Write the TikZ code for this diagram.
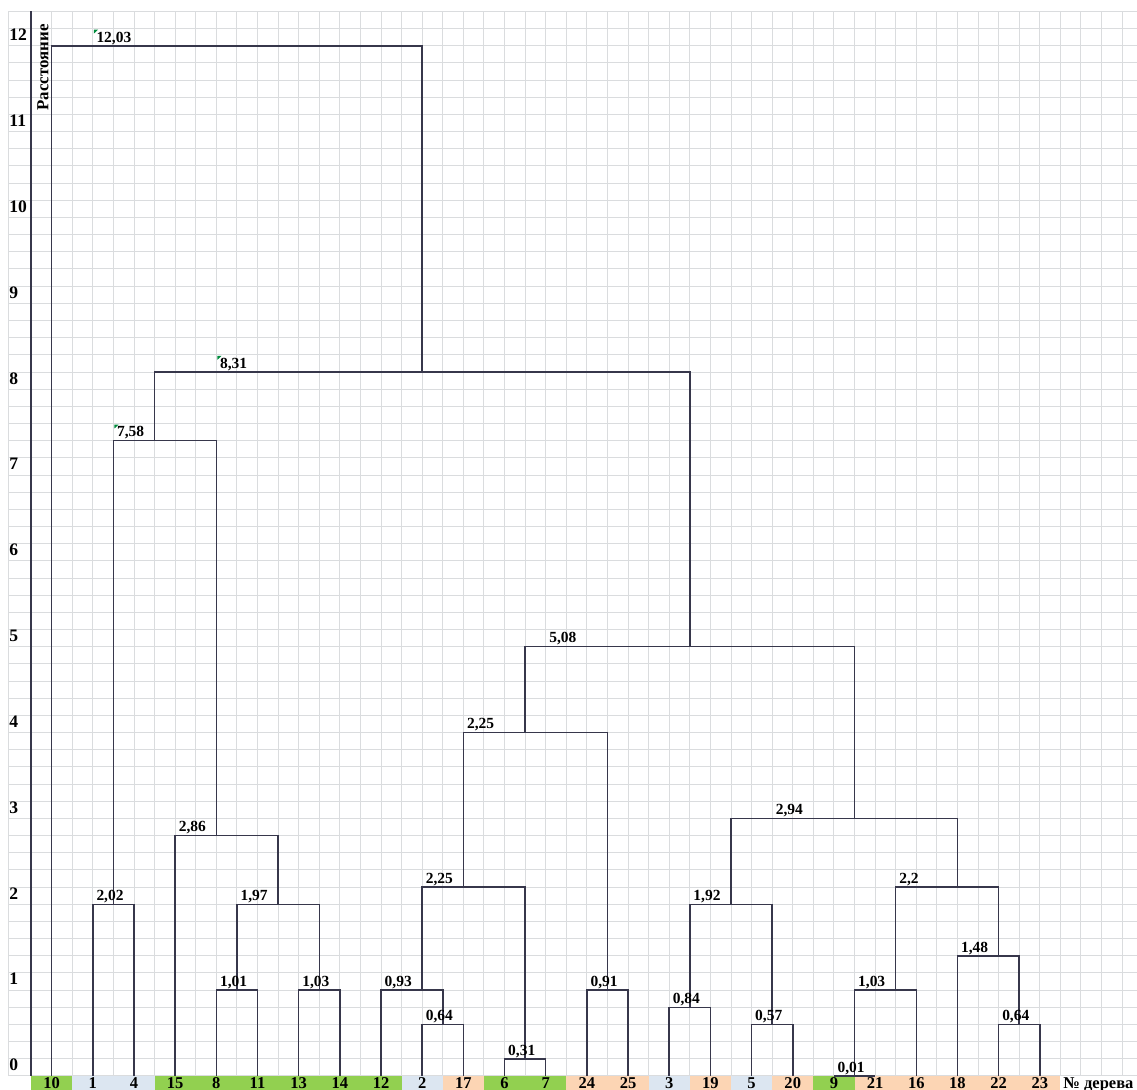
\documentclass[tikz,border=0pt]{standalone}
\usepackage{fontspec}
\setmainfont{Liberation Serif}
\definecolor{cellgreen}{RGB}{146,208,80}
\definecolor{cellblue}{RGB}{220,230,241}
\definecolor{cellorange}{RGB}{252,213,180}
\definecolor{gridgray}{RGB}{218,220,222}
\definecolor{linkgray}{RGB}{55,55,75}
\definecolor{notegreen}{RGB}{0,140,60}

\begin{document}
\begin{tikzpicture}[x=4.117mm,y=3.434mm,
        link/.style={draw=linkgray,line width=0.3mm},
        gridline/.style={draw=gridgray,line width=0.2mm},
        val/.style={anchor=base west,inner sep=0pt,font=\bfseries\fontsize{8.8}{10}\selectfont},
        leafno/.style={anchor=base,inner sep=0pt,font=\bfseries\fontsize{9.4}{10}\selectfont},
        axno/.style={anchor=base west,inner sep=0pt,font=\bfseries\fontsize{10}{11}\selectfont}]
    \useasboundingbox (-2.5115,-0.8154) rectangle (52.724,62.667);

    % Sheet grid
    \foreach \k in {0,...,62}
        \draw[gridline] (-2.108,\k) -- (52.724,\k);
    \foreach \j in {-1,...,52}
        \draw[gridline] (\j,0) -- (\j,62);
    \draw[gridline] (-2.108,0) -- (-2.108,62);

    % Axis
    \draw[linkgray,line width=0.35mm] (-1,0) -- (-1,62);
    \foreach \v in {0,...,12}
        \node[axno] (y\v) at (-2.07,5*\v+0.3) {\v};
    \node[rotate=90,inner sep=0pt,font=\bfseries\fontsize{9.6}{10}\selectfont] (ytitle) at (-0.42,58.74) {Расстояние};

    % Leaves
    \foreach \j/\n/\c in {0/10/cellgreen, 2/1/cellblue, 4/4/cellblue, 6/15/cellgreen,
            8/8/cellgreen, 10/11/cellgreen, 12/13/cellgreen, 14/14/cellgreen,
            16/12/cellgreen, 18/2/cellblue, 20/17/cellorange, 22/6/cellgreen,
            24/7/cellgreen, 26/24/cellorange, 28/25/cellorange, 30/3/cellblue,
            32/19/cellorange, 34/5/cellblue, 36/20/cellorange, 38/9/cellgreen,
            40/21/cellorange, 42/16/cellorange, 44/18/cellorange, 46/22/cellorange,
            48/23/cellorange} {
        \fill[\c] (\j-1,-0.9) rectangle (\j+1,0);
        \node[leafno] (t\n) at (\j,-0.74) {\n};
        \coordinate (l\n) at (\j,0);
    }
    \node[leafno,anchor=base west] (xtitle) at (49.13,-0.74) {№ дерева};

    % Merge points
    \coordinate (mA) at (3,10);
    \coordinate (mB) at (9,5);
    \coordinate (mC) at (13,5);
    \coordinate (mD) at (11,10);
    \coordinate (mE) at (8,14);
    \coordinate (mF) at (5,37);
    \coordinate (mG) at (19,3);
    \coordinate (mH) at (18,5);
    \coordinate (mI) at (23,1);
    \coordinate (mJ) at (20,11);
    \coordinate (mK) at (27,5);
    \coordinate (mL) at (23,20);
    \coordinate (mM) at (31,4);
    \coordinate (mN) at (35,3);
    \coordinate (mO) at (33,10);
    \coordinate (mP) at (39,0);
    \coordinate (mQ) at (41,5);
    \coordinate (mR) at (47,3);
    \coordinate (mS) at (46,7);
    \coordinate (mT) at (44,11);
    \coordinate (mU) at (39,15);
    \coordinate (mV) at (31,25);
    \coordinate (mW) at (18,41);
    \coordinate (mX) at (9,60);

    % Links
    \draw[link] (l1) |- (mA) -| (l4);
    \draw[link] (l8) |- (mB) -| (l11);
    \draw[link] (l13) |- (mC) -| (l14);
    \draw[link] (mB) |- (mD) -| (mC);
    \draw[link] (l15) |- (mE) -| (mD);
    \draw[link] (mA) |- (mF) -| (mE);
    \draw[link] (l2) |- (mG) -| (l17);
    \draw[link] (l12) |- (mH) -| (mG);
    \draw[link] (l6) |- (mI) -| (l7);
    \draw[link] (mH) |- (mJ) -| (mI);
    \draw[link] (l24) |- (mK) -| (l25);
    \draw[link] (mJ) |- (mL) -| (mK);
    \draw[link] (l3) |- (mM) -| (l19);
    \draw[link] (l5) |- (mN) -| (l20);
    \draw[link] (mM) |- (mO) -| (mN);
    \draw[link] (l9) |- (mP) -| (l21);
    \draw[link] (mP) |- (mQ) -| (l16);
    \draw[link] (l22) |- (mR) -| (l23);
    \draw[link] (l18) |- (mS) -| (mR);
    \draw[link] (mQ) |- (mT) -| (mS);
    \draw[link] (mO) |- (mU) -| (mT);
    \draw[link] (mL) |- (mV) -| (mU);
    \draw[link] (mF) |- (mW) -| (mV);
    \draw[link] (l10) |- (mX) -| (mW);

    % Distances
    \node[val] (vA) at (2.16,10.22) {2,02};
    \node[val] (vB) at (8.16,5.22) {1,01};
    \node[val] (vC) at (12.16,5.22) {1,03};
    \node[val] (vD) at (9.16,10.22) {1,97};
    \node[val] (vE) at (6.16,14.22) {2,86};
    \node[val] (vF) at (3.16,37.22) {7,58};
    \node[val] (vG) at (18.16,3.22) {0,64};
    \node[val] (vH) at (16.16,5.22) {0,93};
    \node[val] (vI) at (22.16,1.22) {0,31};
    \node[val] (vJ) at (18.16,11.22) {2,25};
    \node[val] (vK) at (26.16,5.22) {0,91};
    \node[val] (vL) at (20.16,20.22) {2,25};
    \node[val] (vM) at (30.16,4.22) {0,84};
    \node[val] (vN) at (34.16,3.22) {0,57};
    \node[val] (vO) at (31.16,10.22) {1,92};
    \node[val] (vP) at (38.16,0.22) {0,01};
    \node[val] (vQ) at (39.16,5.22) {1,03};
    \node[val] (vR) at (46.16,3.22) {0,64};
    \node[val] (vS) at (44.16,7.22) {1,48};
    \node[val] (vT) at (41.16,11.22) {2,2};
    \node[val] (vU) at (35.16,15.22) {2,94};
    \node[val] (vV) at (24.16,25.22) {5,08};
    \node[val] (vW) at (8.16,41.22) {8,31};
    \node[val] (vX) at (2.16,60.22) {12,03};

    % Cell marks
    \foreach \j/\k in {2/61, 8/42, 3/38}
        \fill[notegreen] (\j+0.05,\k-0.06) -- ++(0.2,0) -- ++(-0.2,-0.23) -- cycle;

\end{tikzpicture}
\end{document}
